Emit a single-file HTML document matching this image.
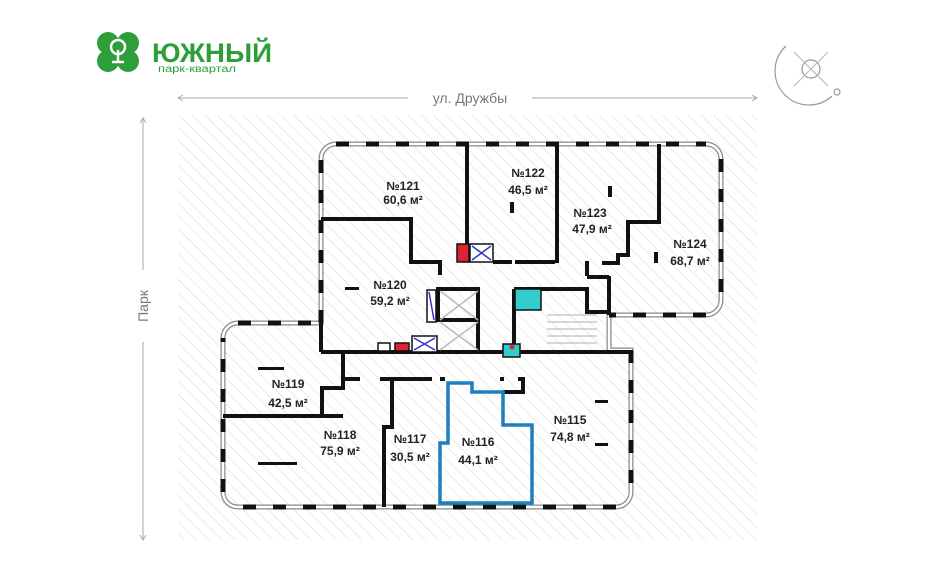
<!DOCTYPE html>
<html><head><meta charset="utf-8"><style>
html,body{margin:0;padding:0;background:#fff;}
svg{display:block;}
text{font-family:"Liberation Sans",sans-serif;}
</style></head><body>
<svg width="945" height="561" viewBox="0 0 945 561" xmlns="http://www.w3.org/2000/svg">
<defs>
<pattern id="h" width="9" height="9" patternUnits="userSpaceOnUse" patternTransform="rotate(-45)">
<line x1="0" y1="0" x2="0" y2="9" stroke="#d6d6d6" stroke-width="1"/>
</pattern>
</defs>
<rect x="178" y="115" width="579" height="425" fill="url(#h)"/>
<line x1="178" y1="98" x2="408" y2="98" stroke="#aaa"/>
<line x1="532" y1="98" x2="757" y2="98" stroke="#aaa"/>
<path d="M183,95 L178,98 L183,101" fill="none" stroke="#aaa"/>
<path d="M752,95 L757,98 L752,101" fill="none" stroke="#aaa"/>
<text x="470" y="103" font-size="14" fill="#777" text-anchor="middle">ул. Дружбы</text>
<line x1="143" y1="118" x2="143" y2="270" stroke="#aaa"/>
<line x1="143" y1="342" x2="143" y2="540" stroke="#aaa"/>
<path d="M140,123 L143,118 L146,123" fill="none" stroke="#aaa"/>
<path d="M140,535 L143,540 L146,535" fill="none" stroke="#aaa"/>
<text x="0" y="0" font-size="14" fill="#777" text-anchor="middle" transform="translate(148,306) rotate(-90)">Парк</text>

<g fill="#2e9e3a">
<circle cx="108" cy="43" r="11"/><circle cx="128" cy="43" r="11"/>
<circle cx="108" cy="61" r="11"/><circle cx="128" cy="61" r="11"/>
<rect x="102" y="38" width="32" height="28"/>
</g>
<circle cx="118" cy="47" r="7" fill="none" stroke="#fff" stroke-width="2.5"/>
<line x1="118" y1="50" x2="118" y2="62" stroke="#fff" stroke-width="2.5"/>
<line x1="112" y1="62" x2="124" y2="62" stroke="#fff" stroke-width="2.5"/>
<text x="152" y="62" font-size="27" font-weight="bold" fill="#2e9e3a" textLength="120" lengthAdjust="spacingAndGlyphs">ЮЖНЫЙ</text>
<text x="158" y="72" font-size="10" fill="#2e9e3a" textLength="78" lengthAdjust="spacingAndGlyphs">парк-квартал</text>

<g stroke="#999" fill="none" stroke-width="1.2">
<path d="M786,46 A28 28 0 0 0 832,96"/>
<circle cx="811" cy="69" r="9"/>
<line x1="794" y1="52" x2="828" y2="86" stroke="#bbb"/>
<line x1="828" y1="52" x2="794" y2="86" stroke="#bbb"/>
<circle cx="837" cy="92" r="3"/>
</g>

<path d="M336,144 H706 A15 15 0 0 1 721,159 V300 A15 15 0 0 1 706,315 H609 V350 H631 V492 A15 15 0 0 1 616,507 H238 A15 15 0 0 1 223,492 V338 A15 15 0 0 1 238,323 H321 V159 A15 15 0 0 1 336,144 Z" fill="none" stroke="#888" stroke-width="5"/>
<path d="M336,144 H706 A15 15 0 0 1 721,159 V300 A15 15 0 0 1 706,315 H609 V350 H631 V492 A15 15 0 0 1 616,507 H238 A15 15 0 0 1 223,492 V338 A15 15 0 0 1 238,323 H321 V159 A15 15 0 0 1 336,144 Z" fill="none" stroke="#fff" stroke-width="2.5"/>
<path d="M336,144 H706 M721,159 V300 M706,315 H609 M631,350 V492 M616,507 H238 M223,492 V338 M238,323 H321 M321,323 V159" fill="none" stroke="#111" stroke-width="5" stroke-dasharray="13 17"/>
<g fill="none" stroke="#111" stroke-width="4">
<path d="M467,144 V250"/>
<path d="M557,144 V263"/>
<path d="M659,144 V222 H628 V255 H618 V263 H602"/>
<path d="M321,219 H411 V262 H440 V275"/>
<path d="M493,262 H512 M515,262 H555"/>
<path d="M585,263 H587 V276"/>
<path d="M609,276 V315"/>
<path d="M587,277 H609"/>
<path d="M321,352 H478 V289 H438 V322"/>
<path d="M438,320 H478"/>
<path d="M514,289 V352 H609 M514,289 H587 V312 H609"/>
<path d="M321,352 V323"/>
<path d="M321,352 H631"/>
<path d="M343,352 V379 H360 M380,379 H432 M440,379 H445 M500,379 H504 M518,379 H523 V392 H503"/>
<path d="M343,379 V388 H322 V416 H223"/>
<path d="M392,379 V427 H384 V507"/>
<path d="M322,416 H343"/>
</g>
<path d="M448,383 H472 V392 H503 V425 H532 V503 H440 V443 H448 Z" fill="none" stroke="#1c7fc0" stroke-width="3.5"/>
<g stroke-width="1.5">
<rect x="457" y="244" width="12" height="18" fill="#d23" stroke="#111"/>
<rect x="470" y="244" width="23" height="18" fill="#fff" stroke="#111"/>
<path d="M472,246 L491,260 M491,246 L472,260" stroke="#33c"/>
<rect x="427" y="290" width="9" height="32" fill="#fff" stroke="#111"/>
<path d="M429,292 L434,320" stroke="#33c"/>
<rect x="412" y="336" width="25" height="16" fill="#fff" stroke="#111"/>
<path d="M414,338 L435,350 M435,338 L414,350" stroke="#33c"/>
<rect x="395" y="343" width="14" height="8" fill="#d23" stroke="#111"/>
<rect x="378" y="343" width="12" height="8" fill="#fff" stroke="#111"/>
<rect x="515" y="289" width="26" height="21" fill="#3cc" stroke="#111"/>
<rect x="503" y="344" width="17" height="13" fill="#3cc" stroke="#111"/>
<circle cx="512" cy="347" r="2.5" fill="#d23"/>
<path d="M440,291 L478,320 M478,291 L440,320 M440,322 L478,350 M478,322 L440,350" stroke="#bbb"/>
</g>
<g stroke="#999" stroke-width="0.8">
<path d="M547,315 H597 M547,322 H597 M547,329 H597 M547,336 H597 M547,343 H597"/>
</g>
<g fill="#111">
<rect x="510" y="202" width="4" height="11"/><rect x="608" y="186" width="4" height="11"/>
<rect x="654" y="252" width="4" height="11"/><rect x="345" y="287" width="14" height="3"/>
<rect x="258" y="367" width="26" height="3"/><rect x="258" y="462" width="39" height="3"/>
<rect x="595" y="400" width="13" height="3"/><rect x="595" y="443" width="13" height="3"/>
</g>
<g font-size="12" font-weight="bold" fill="#222" text-anchor="middle">
<text x="403" y="190">№121</text><text x="403" y="204">60,6 м²</text>
<text x="528" y="177">№122</text><text x="528" y="194">46,5 м²</text>
<text x="590" y="217">№123</text><text x="592" y="233">47,9 м²</text>
<text x="690" y="248">№124</text><text x="690" y="265">68,7 м²</text>
<text x="390" y="289">№120</text><text x="390" y="305">59,2 м²</text>
<text x="288" y="388">№119</text><text x="288" y="407">42,5 м²</text>
<text x="340" y="439">№118</text><text x="340" y="455">75,9 м²</text>
<text x="410" y="443">№117</text><text x="410" y="461">30,5 м²</text>
<text x="478" y="446">№116</text><text x="478" y="464">44,1 м²</text>
<text x="570" y="424">№115</text><text x="570" y="441">74,8 м²</text>
</g>
</svg>
</body></html>
